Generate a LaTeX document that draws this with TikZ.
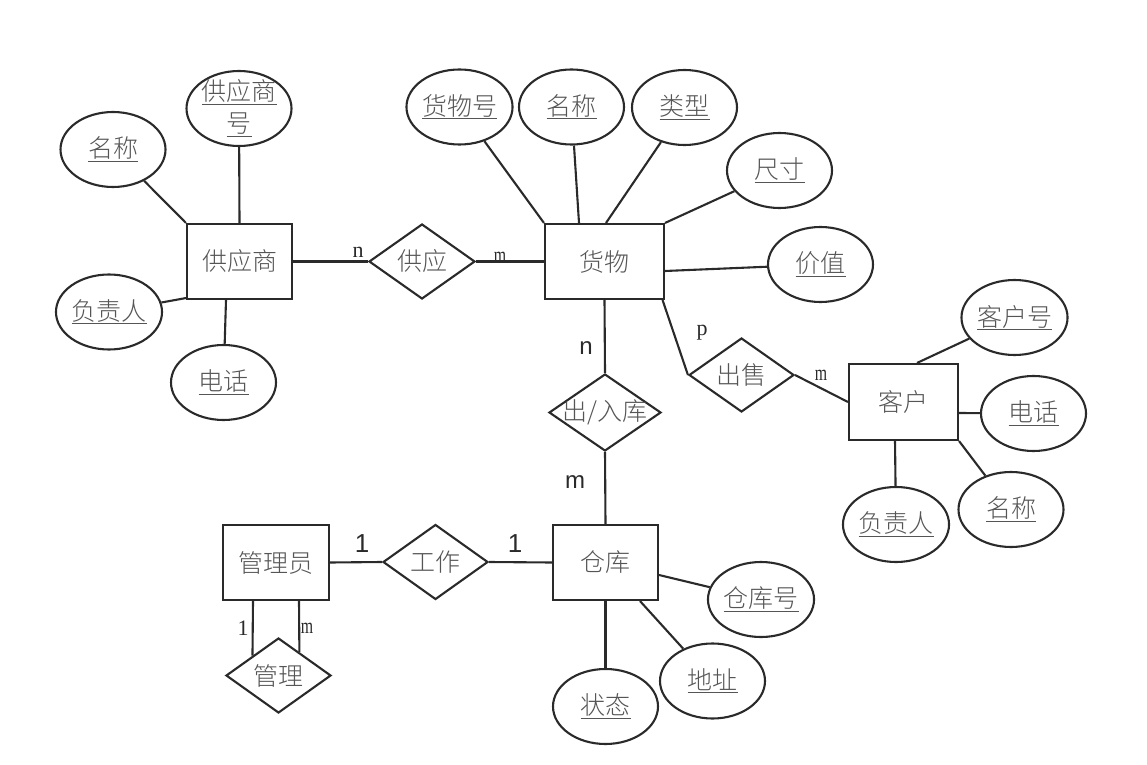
\documentclass[tikz,border=0pt]{standalone}
\usepackage{fontspec}
\usetikzlibrary{shapes.geometric,calc}
\IfFontExistsTF{Noto Sans CJK SC Light}{\newfontfamily\cjk{Noto Sans CJK SC Light}}{\newfontfamily\cjk{Noto Sans CJK SC}}
\newfontfamily\lblserif{Liberation Serif}
\newfontfamily\lblsans{Liberation Sans}
\definecolor{ln}{HTML}{2A2A2A}
\definecolor{tx}{HTML}{555555}
\newcommand{\myul}[1]{\setbox0\hbox{#1}\leavevmode\rlap{\rule[-4pt]{\wd0}{1.3pt}}\box0}
\newcommand{\nm}{\scalebox{0.72}[1]{m}}
\begin{document}
\begin{tikzpicture}[x=1pt,y=1pt,
  cjkfont/.style={font=\cjk\fontsize{25}{32}\selectfont, text=tx},
  ent/.style={draw=ln, line width=2.1pt, rectangle, minimum width=105pt, minimum height=75pt, inner sep=0pt, cjkfont},
  att/.style={draw=ln, line width=2.1pt, ellipse, minimum width=105pt, minimum height=75pt, inner sep=0pt, cjkfont},
  rel/.style={draw=ln, line width=2.1pt, diamond, minimum width=105pt, minimum height=75pt, inner sep=0pt},
  rtxt/.style={cjkfont, inner sep=0pt},
  con/.style={draw=ln, line width=2.1pt},
  card/.style={font=\lblserif\fontsize{22}{24}\selectfont, text=ln, inner sep=0pt},
  cardb/.style={font=\lblsans\fontsize{24}{26}\selectfont, text=ln, inner sep=0pt}
]
\useasboundingbox (0,0) rectangle (1147,764);

% entities
\node[ent] (S) at (239.5,502.5) {供应商};
\node[ent, minimum width=119pt] (G) at (604.5,502.5) {货物};
\node[ent, minimum width=109pt, minimum height=76pt] (K) at (903.5,362) {客户};
\node[ent, minimum width=106pt] (M) at (276,201.5) {管理员};
\node[ent] (W) at (605.5,201.5) {仓库};

% relationships
\node[rel, minimum width=106pt, label={[rtxt]center:供应}] (Dsup) at (422,502.5) {};
\node[rel, minimum width=112pt, minimum height=77pt, label={[rtxt]center:出/入库}] (Dio) at (605,351.5) {};
\node[rel, minimum height=74pt, label={[rtxt]center:出售}] (Dsell) at (741.5,389) {};
\node[rel, label={[rtxt]center:工作}] (Dwork) at (435.5,202) {};
\node[rel, label={[rtxt]center:管理}] (Dman) at (278.5,88.5) {};

% attributes
\node[att] (A1) at (113,614.5) {\myul{名称}};
\node[att, label={[rtxt, align=center]center:\myul{供应商}\\\myul{号}}] (A2) at (239,655.5) {};
\node[att] (A3) at (109,452) {\myul{负责人}};
\node[att] (A4) at (223.5,381.5) {\myul{电话}};
\node[att] (B1) at (459.5,657) {\myul{货物号}};
\node[att] (B2) at (571.5,657) {\myul{名称}};
\node[att] (B3) at (684.5,656.5) {\myul{类型}};
\node[att] (B4) at (779.5,593.5) {\myul{尺寸}};
\node[att] (B5) at (820.5,499.5) {\myul{价值}};
\node[att] (C1) at (1014.5,446.5) {\myul{客户号}};
\node[att] (C2) at (1033.5,350.5) {\myul{电话}};
\node[att] (C3) at (1011,254.5) {\myul{名称}};
\node[att] (C4) at (896,239.5) {\myul{负责人}};
\node[att] (W1) at (761,164.5) {\myul{仓库号}};
\node[att] (W2) at (712.5,83) {\myul{地址}};
\node[att] (W3) at (605.5,57.5) {\myul{状态}};

% connectors
\draw[con] (A1) -- (S.north west);
\draw[con] (A2) -- (S.north);
\draw[con] (A3) -- ([yshift=2pt]S.south west);
\draw[con] (A4) -- ([xshift=-13.5pt]S.south);
\draw[con] (S.east) -- (Dsup.west);
\draw[con] (Dsup.east) -- (G.west);
\draw[con] (B1) -- (G.north west);
\draw[con] (B2) -- ([xshift=-25.5pt]G.north);
\draw[con] (B3) -- ([xshift=1.5pt]G.north);
\draw[con] (B4) -- (G.north east);
\draw[con] (B5) -- ([yshift=-9.5pt]G.east);
\draw[con] (G.south) -- (Dio.north);
\draw[con] (Dio.south) -- (W.north);
\draw[con] ([xshift=-2.5pt]G.south east) -- (Dsell.west);
\draw[con] (Dsell.east) -- (K.west);
\draw[con] ([xshift=13.5pt]K.north) -- (C1);
\draw[con] ([yshift=-11pt]K.east) -- (C2);
\draw[con] (K.south east) -- (C3);
\draw[con] ([xshift=-8.5pt]K.south) -- (C4);
\draw[con] (M.east) -- (Dwork.west);
\draw[con] (Dwork.east) -- (W.west);
\draw[con] ([yshift=-12.5pt]W.east) -- (W1);
\draw[con] ([xshift=34.5pt]W.south) -- (W2);
\draw[con] (W.south) -- (W3);
\draw[con] ([xshift=-23pt]M.south) -- ($(Dman.west)!0.514!(Dman.north)$);
\draw[con] ([xshift=23pt]M.south) -- ($(Dman.north)!0.39!(Dman.east)$);

% cardinalities
\node[card] (c1) at (358,512) {n};
\node[card] (c2) at (500,507) {\nm};
\node[cardb] (c3) at (586,416) {n};
\node[cardb] (c4) at (575,282) {m};
\node[card] (c5) at (702,431) {p};
\node[card] (c6) at (821,389) {\nm};
\node[cardb, font=\lblsans\fontsize{26}{28}\selectfont] (c7) at (362,220) {1};
\node[cardb, font=\lblsans\fontsize{26}{28}\selectfont] (c8) at (515,220) {1};
\node[card] (c9) at (243,136) {1};
\node[card] (c10) at (307,136) {\nm};
\end{tikzpicture}
\end{document}
